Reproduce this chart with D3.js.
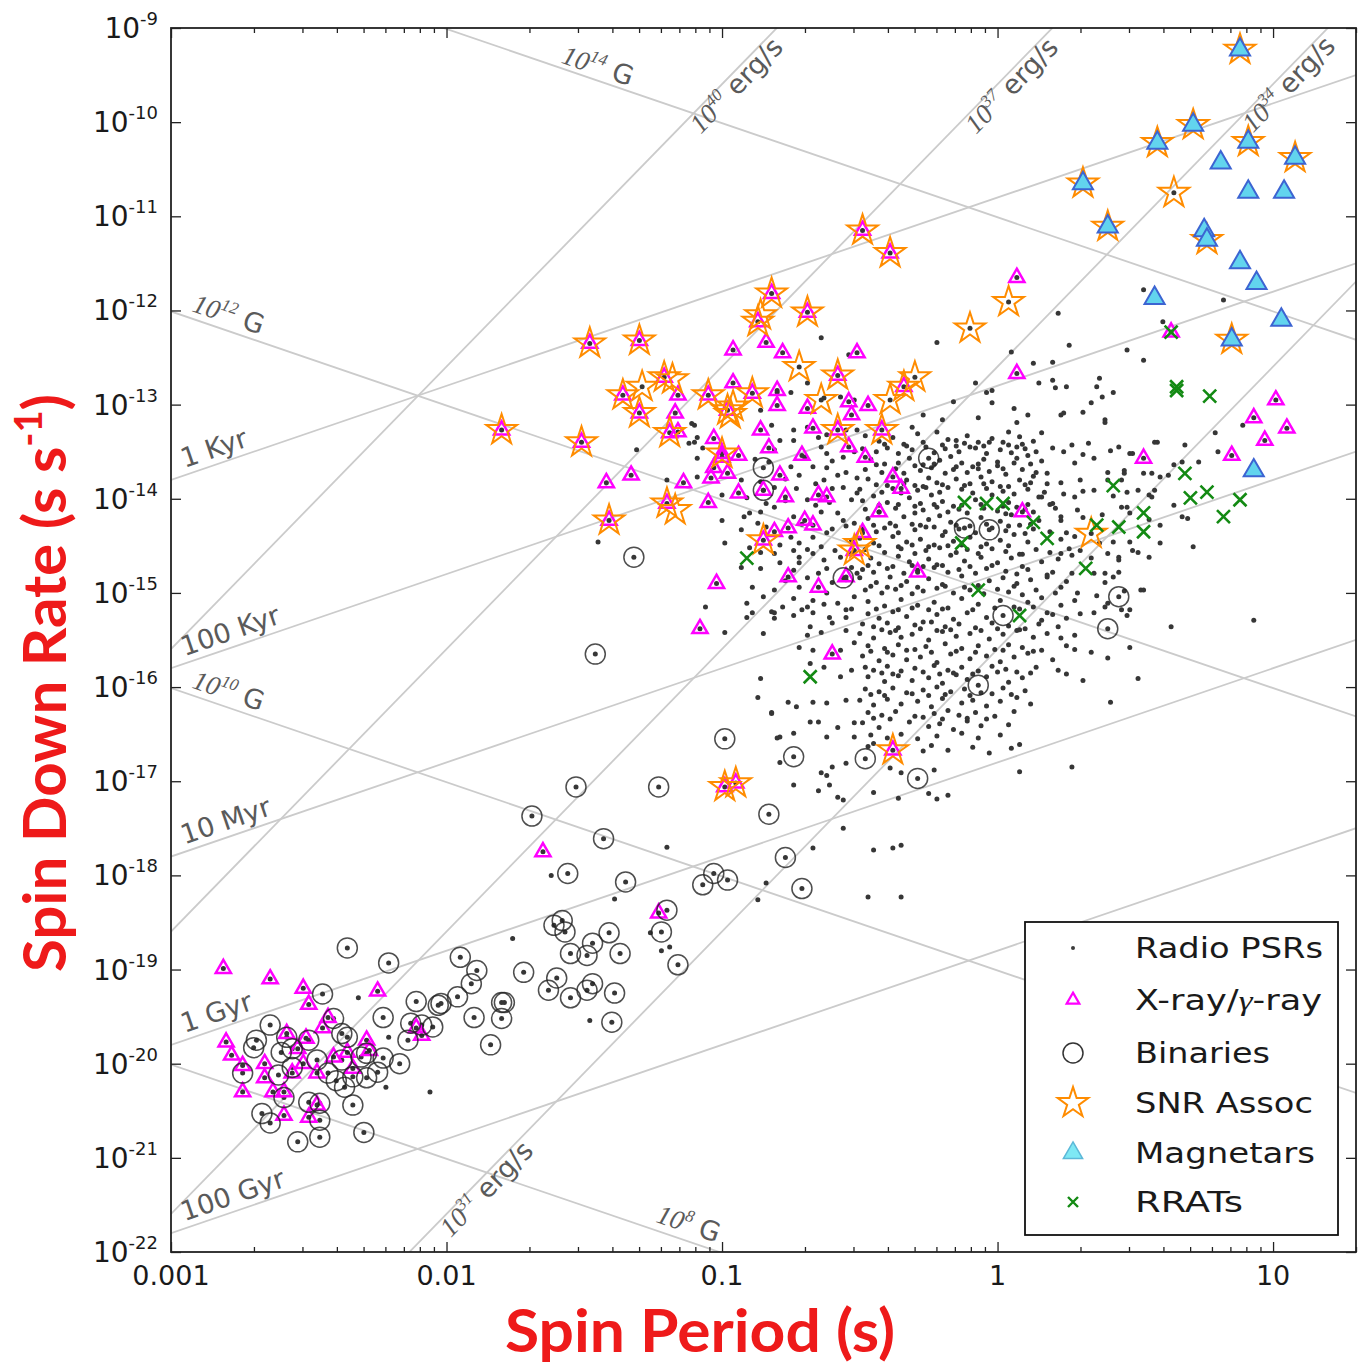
<!DOCTYPE html>
<html>
<head>
<meta charset="utf-8">
<script src="https://cdn.jsdelivr.net/npm/d3@7"></script>
<style>
  body { margin: 0; background: #fff; }
</style>
</head>
<body>
<div id="chart"></div>
<script>
// P-Pdot diagram: values are log10(P [s]) and log10(Pdot [s/s])

// Radio pulsars (small dots)
const radioPSRs = [
  [-0.64,-12.29],[-0.54,-12.47],[-0.80,-12.87],[-0.75,-12.87],[-0.69,-12.77],[-0.63,-12.93],[-0.57,-12.92],[-0.52,-12.95],
  [-0.86,-13.06],[-0.82,-13.22],[-0.74,-13.27],[-0.69,-13.24],[-0.65,-13.35],[-0.62,-13.32],[-0.55,-13.27],[-0.51,-13.27],
  [-1.10,-13.22],[-1.09,-13.35],[-1.12,-13.41],[-1.31,-13.48],[-1.07,-13.46],[-1.09,-13.57],[-0.81,-13.48],[-0.79,-13.38],
  [-0.74,-13.38],[-0.64,-13.45],[-0.62,-13.52],[-0.56,-13.56],[-0.52,-13.50],[-0.75,-13.66],[-0.72,-13.75],[-0.67,-13.66],
  [-0.62,-13.67],[-0.58,-13.75],[-0.55,-13.72],[-0.51,-13.78],[-1.20,-13.80],[-1.09,-13.77],[-0.93,-13.80],[-1.00,-13.96],
  [-0.91,-13.99],[-0.81,-13.88],[-0.73,-13.89],[-0.69,-14.01],[-0.60,-13.89],[-0.56,-13.88],[-0.53,-14.01],[-0.51,-13.94],
  [-1.00,-14.23],[-0.92,-14.19],[-0.90,-14.15],[-0.86,-14.14],[-0.81,-14.09],[-0.74,-14.19],[-0.64,-14.14],[-0.58,-14.15],
  [-0.56,-14.23],[-0.52,-14.26],[-0.93,-14.33],[-0.87,-14.26],[-0.75,-14.41],[-0.72,-14.47],[-0.67,-14.41],[-0.62,-14.36],
  [-0.59,-14.55],[-0.53,-14.44],[-1.45,-14.46],[-0.99,-14.47],[-0.86,-14.57],[-0.81,-14.58],[-0.74,-14.55],[-0.72,-14.62],
  [-0.67,-14.58],[-0.63,-14.65],[-0.57,-14.62],[-0.53,-14.58],[-0.93,-14.73],[-0.86,-14.74],[-0.79,-14.68],[-0.74,-14.76],
  [-0.72,-14.68],[-0.65,-14.79],[-0.62,-14.74],[-0.53,-14.73],[-0.51,-14.79],[-1.06,-15.15],[-0.91,-15.11],[-0.89,-14.94],
  [-0.85,-15.04],[-0.81,-14.97],[-0.74,-15.06],[-0.72,-14.94],[-0.69,-15.15],[-0.67,-15.08],[-0.62,-15.00],[-0.58,-15.11],
  [-0.55,-15.18],[-0.52,-15.04],[-0.89,-15.21],[-0.81,-15.21],[-0.74,-15.24],[-0.67,-15.21],[-0.61,-15.26],[-0.55,-15.26],
  [-1.11,-13.20],[-1.10,-13.40],
  [-0.22,-12.34],[0.26,-12.37],[0.47,-12.42],[0.53,-12.53],[0.05,-12.44],[0.13,-12.56],[0.20,-12.55],[-0.08,-12.77],
  [-0.04,-12.87],[-0.02,-12.85],[0.15,-12.77],[0.20,-12.74],[0.25,-12.81],[0.37,-12.72],[0.36,-12.81],[0.38,-12.92],
  [0.42,-12.87],[-0.16,-12.97],[-0.02,-12.98],[0.06,-13.04],[0.11,-13.11],[0.23,-13.11],[0.31,-13.08],[0.34,-12.98],
  [0.39,-13.16],[-0.27,-13.11],[-0.20,-13.16],[-0.07,-13.14],[0.04,-13.29],[0.16,-13.30],[0.20,-13.46],[0.27,-13.43],
  [0.33,-13.41],[0.44,-13.45],[0.58,-13.40],[-0.31,-13.24],[-0.22,-13.29],[-0.15,-13.38],[-0.10,-13.45],[-0.03,-13.40],
  [0.07,-13.45],[0.11,-13.54],[0.28,-13.62],[0.35,-13.57],[0.48,-13.52],[0.40,-13.72],[0.46,-13.73],[0.56,-13.73],
  [0.23,-13.83],[0.30,-13.80],[0.35,-13.91],[0.51,-13.91],[0.57,-13.91],[0.18,-13.73],[0.12,-13.83],[0.16,-13.98],
  [0.20,-14.05],[0.28,-13.98],[0.29,-14.12],[0.23,-14.23],[0.25,-14.36],[0.47,-14.09],[0.49,-14.55],[0.44,-14.65],
  [0.37,-14.47],[0.30,-14.55],[0.23,-14.58],[0.27,-14.79],[0.35,-14.79],[0.42,-14.83],[0.52,-14.97],[0.45,-15.18],
  [0.40,-15.11],[0.35,-15.21],[0.28,-15.08],[0.23,-14.94],[0.18,-14.83],[0.13,-15.15],[0.18,-15.21],
  [-0.48,-13.33],[-0.43,-13.39],[-0.38,-13.35],[-0.34,-13.42],[-0.29,-13.31],[-0.18,-13.37],[-0.15,-13.44],[-0.11,-13.33],
  [-0.07,-13.40],[-0.02,-13.36],[0.04,-13.43],[0.08,-13.34],[0.13,-13.39],
  [-0.46,-13.58],[-0.41,-13.63],[-0.32,-13.57],[-0.27,-13.64],[-0.21,-13.59],[-0.17,-13.55],[-0.13,-13.62],[-0.09,-13.66],
  [-0.05,-13.58],[0.00,-13.61],[0.02,-13.68],[0.07,-13.57],[0.12,-13.63],[0.16,-13.60],
  [-0.47,-13.79],[-0.44,-13.85],[-0.33,-13.80],[-0.30,-13.86],[-0.25,-13.78],[-0.22,-13.83],[-0.18,-13.88],[-0.15,-13.79],
  [-0.10,-13.84],[-0.06,-13.77],[-0.02,-13.82],[0.04,-13.87],[0.08,-13.80],[0.13,-13.76],[0.18,-13.84],
  [-0.49,-14.02],[-0.45,-13.97],[-0.40,-14.04],[-0.32,-13.99],[-0.28,-14.05],[-0.24,-13.96],[-0.20,-14.03],[-0.16,-14.08],
  [-0.08,-14.01],[-0.02,-13.96],[0.04,-14.04],[0.07,-14.09],[0.15,-13.98],[0.19,-14.06],
  [-0.47,-14.21],[-0.39,-14.26],[-0.34,-14.19],[-0.31,-14.27],[-0.25,-14.22],[-0.21,-14.18],[-0.17,-14.25],[-0.10,-14.29],
  [-0.06,-14.20],[0.01,-14.24],[0.05,-14.17],[0.08,-14.28],[0.15,-14.23],[0.23,-14.19],
  [-0.50,-14.42],[-0.45,-14.47],[-0.38,-14.40],[-0.33,-14.46],[-0.28,-14.43],[-0.23,-14.49],[-0.20,-14.39],[-0.16,-14.45],
  [-0.10,-14.41],[-0.04,-14.48],[0.01,-14.44],[0.06,-14.38],[0.11,-14.46],[0.23,-14.43],[0.28,-14.40],
  [-0.46,-14.63],[-0.43,-14.69],[-0.36,-14.61],[-0.32,-14.67],[-0.25,-14.64],[-0.22,-14.70],[-0.17,-14.60],[-0.12,-14.66],
  [-0.06,-14.62],[0.00,-14.68],[0.05,-14.63],[0.09,-14.59],[0.16,-14.67],[0.22,-14.64],
  [-0.50,-14.84],[-0.44,-14.89],[-0.39,-14.83],[-0.33,-14.88],[-0.25,-14.85],[-0.20,-14.91],[-0.13,-14.82],[-0.03,-14.87],
  [0.02,-14.84],[0.07,-14.90],[0.12,-14.86],[0.18,-14.81],[0.25,-14.88],
  [-0.47,-15.09],[-0.41,-15.14],[-0.35,-15.07],[-0.29,-15.13],[-0.23,-15.10],[-0.18,-15.16],[-0.13,-15.06],[-0.07,-15.12],
  [0.01,-15.08],[0.06,-15.15],[0.11,-15.10],[0.16,-15.05],[0.23,-15.13],
  [-0.47,-15.22],[-0.43,-15.27],[-0.38,-15.20],[-0.33,-15.25],[-0.27,-15.31],[-0.22,-15.23],[-0.16,-15.28],[-0.11,-15.21],
  [-0.04,-15.26],[0.16,-15.29],[0.20,-15.23],[0.25,-15.27],[0.30,-15.22],[0.47,-15.24],
  [-0.50,-15.43],[-0.45,-15.48],[-0.39,-15.42],[-0.35,-15.47],[-0.31,-15.44],[-0.25,-15.50],[-0.20,-15.41],[-0.15,-15.46],
  [-0.10,-15.43],[-0.03,-15.49],[0.02,-15.44],[0.07,-15.40],[0.13,-15.47],[0.18,-15.43],[0.23,-15.48],[0.28,-15.45],
  [-0.49,-15.67],[-0.43,-15.72],[-0.38,-15.66],[-0.33,-15.71],[-0.28,-15.68],[-0.22,-15.74],[-0.17,-15.65],[-0.10,-15.70],
  [-0.04,-15.67],[0.01,-15.73],[0.06,-15.68],[0.11,-15.64],[0.20,-15.71],[0.40,-15.69],
  [-0.47,-15.89],[-0.41,-15.94],[-0.36,-15.88],[-0.31,-15.93],[-0.25,-15.90],[-0.20,-15.96],[-0.15,-15.87],[-0.11,-15.92],
  [-0.04,-15.89],[0.04,-15.95],[0.09,-15.90],[0.25,-15.86],[0.31,-15.93],[0.51,-15.91],
  [-0.50,-16.14],[-0.45,-16.19],[-0.40,-16.13],[-0.35,-16.18],[-0.29,-16.15],[-0.24,-16.21],[-0.20,-16.12],[-0.13,-16.17],
  [-0.09,-16.14],[-0.04,-16.20],[0.01,-16.15],[0.07,-16.11],[0.12,-16.18],[0.41,-16.16],
  [-0.49,-16.38],[-0.43,-16.43],[-0.32,-16.37],[-0.25,-16.42],[-0.21,-16.39],[-0.16,-16.45],[-0.11,-16.36],[-0.06,-16.41],
  [0.04,-16.40],[-0.47,-16.63],[-0.27,-16.68],[-0.24,-16.62],[-0.18,-16.67],[-0.09,-16.64],[-0.03,-16.70],[0.05,-16.65],
  [0.08,-16.61],[-0.39,-16.86],[-0.35,-16.91],[-0.23,-16.88],[0.08,-16.90],[0.27,-16.85],[-0.45,-17.12],[-0.36,-17.18],
  [-0.25,-17.13],[-0.22,-17.19],[-0.18,-17.15],[-0.45,-17.73],[-0.38,-17.71],[-0.35,-17.68],[-0.47,-18.23],[-0.35,-18.23],
  [-0.99,-15.42],[-0.91,-15.26],[-0.81,-15.27],[-0.68,-15.36],[-0.64,-15.42],[-0.60,-15.32],[-0.55,-15.40],[-0.69,-15.45],
  [-0.72,-15.58],[-0.67,-15.61],[-0.57,-15.61],[-0.52,-15.53],[-0.86,-15.91],[-0.68,-15.75],[-0.63,-15.79],[-0.57,-15.89],
  [-0.53,-15.82],[-0.87,-16.11],[-0.76,-16.16],[-0.73,-16.21],[-0.67,-16.16],[-0.62,-16.17],[-0.55,-16.14],[-0.82,-16.27],
  [-0.68,-16.37],[-0.65,-16.37],[-0.58,-16.43],[-0.52,-16.38],[-0.79,-16.53],[-0.74,-16.49],[-0.62,-16.53],[-0.52,-16.53],
  [-0.79,-16.80],[-0.64,-16.91],[-0.62,-16.94],[-0.60,-16.85],[-0.55,-16.81],[-0.74,-17.04],[-0.65,-17.10],[-0.61,-17.04],
  [-0.58,-17.17],[-0.56,-17.20],[-0.45,-16.60],[-1.20,-17.70],[-0.67,-17.71],[-0.56,-17.50],[-0.85,-15.43],[-0.82,-15.20],
  [-0.71,-15.18],[-0.82,-16.28],[-0.80,-16.54],
  [-1.62,-18.00],[-1.39,-18.25],[-1.76,-18.67],[-0.84,-18.08],[-0.87,-18.26],[-1.22,-18.80],[-1.19,-18.76],[-1.26,-18.61],
  [-1.48,-19.54],[-2.32,-19.30],[-2.21,-19.72],[-2.22,-20.25],[-2.06,-20.30],
  [0.39,-13.19],[0.57,-13.40],[0.49,-13.52],[0.68,-13.43],[0.79,-13.30],[0.80,-13.50],[0.89,-13.22],[0.73,-13.61],
  [0.64,-13.64],[0.67,-13.61],[0.59,-13.77],[0.62,-13.75],[0.53,-13.73],[0.46,-13.70],[0.45,-13.80],[0.40,-13.80],
  [0.47,-13.93],[0.55,-13.96],[0.56,-13.98],[0.64,-14.07],[0.45,-14.09],[0.48,-14.15],[0.67,-14.19],[0.69,-14.21],
  [0.59,-14.28],[0.48,-14.46],[0.42,-14.46],[0.59,-14.47],[0.51,-14.57],[0.71,-14.51],[0.44,-14.62],[0.44,-14.78],
  [0.39,-14.79],[0.39,-14.89],[0.53,-14.97],[0.48,-15.18],[0.39,-15.15],[0.93,-15.29],[0.63,-15.36],
  [0.53,-11.78],[0.60,-12.12],[0.82,-11.89],[0.22,-12.03],[0.21,-12.82],[0.07,-13.19],[0.24,-13.09],
  [0.64,-10.75],[0.04,-11.91],[-0.10,-12.19],[-0.30,-12.71],[-0.72,-12.60],[-1.29,-12.81],[-0.64,-12.95],[-0.39,-12.95],
  [0.34,-14.37],
  [-0.49,-13.47],[-0.44,-13.50],[-0.40,-13.46],[-0.36,-13.52],[-0.31,-13.48],[-0.26,-13.45],[-0.23,-13.51],[-0.19,-13.47],
  [-0.14,-13.50],[-0.08,-13.46],[-0.04,-13.52],[0.01,-13.48],[0.05,-13.51],[0.10,-13.47],[0.14,-13.50],
  [-0.48,-13.69],[-0.42,-13.72],[-0.37,-13.68],[-0.34,-13.73],[-0.28,-13.70],[-0.24,-13.67],[-0.19,-13.73],[-0.16,-13.69],
  [-0.11,-13.72],[-0.07,-13.68],[-0.03,-13.71],[0.03,-13.74],[0.09,-13.69],[0.14,-13.72],
  [-0.50,-13.90],[-0.42,-13.93],[-0.38,-13.89],[-0.35,-13.94],[-0.29,-13.91],[-0.26,-13.88],[-0.21,-13.93],[-0.13,-13.90],
  [-0.09,-13.94],[-0.04,-13.89],[0.02,-13.92],[0.06,-13.95],[0.11,-13.90],[0.17,-13.93],
  [-0.48,-14.11],[-0.43,-14.14],[-0.37,-14.10],[-0.30,-14.15],[-0.27,-14.12],[-0.22,-14.09],[-0.18,-14.14],[-0.14,-14.11],
  [-0.11,-14.15],[-0.05,-14.10],[0.00,-14.13],[0.03,-14.16],[0.10,-14.11],[0.13,-14.14],[0.21,-14.10],
  [-0.49,-14.32],[-0.44,-14.35],[-0.41,-14.31],[-0.36,-14.36],[-0.30,-14.33],[-0.26,-14.30],[-0.19,-14.35],[-0.14,-14.32],
  [-0.08,-14.36],[-0.02,-14.31],[0.03,-14.34],[0.10,-14.37],[0.13,-14.32],[0.19,-14.35],
  [-0.48,-14.54],[-0.41,-14.57],[-0.35,-14.53],[-0.30,-14.58],[-0.26,-14.55],[-0.21,-14.52],[-0.15,-14.57],[-0.11,-14.54],
  [-0.07,-14.58],[-0.02,-14.53],[0.03,-14.56],[0.08,-14.59],[0.14,-14.54],[0.19,-14.57],[0.26,-14.53],
  [-0.49,-14.75],[-0.45,-14.78],[-0.40,-14.74],[-0.34,-14.79],[-0.29,-14.76],[-0.23,-14.73],[-0.18,-14.78],[-0.14,-14.75],
  [-0.08,-14.79],[-0.04,-14.74],[0.03,-14.77],[0.07,-14.80],[0.11,-14.75],[0.20,-14.78],
  [-0.48,-14.97],[-0.42,-15.00],[-0.37,-14.96],[-0.31,-15.01],[-0.27,-14.98],[-0.22,-14.95],[-0.16,-15.00],[-0.10,-14.97],
  [-0.05,-15.01],[0.00,-14.96],[0.04,-14.99],[0.09,-15.02],[0.14,-14.97],[0.21,-15.00],
  [-0.49,-15.33],[-0.45,-15.36],[-0.40,-15.32],[-0.36,-15.37],[-0.30,-15.34],[-0.24,-15.31],[-0.19,-15.36],[-0.14,-15.33],
  [-0.08,-15.37],[-0.02,-15.32],[0.04,-15.35],[0.10,-15.38],[0.15,-15.33],[0.22,-15.36],
  [-0.47,-15.56],[-0.41,-15.59],[-0.36,-15.55],[-0.30,-15.60],[-0.26,-15.57],[-0.19,-15.54],[-0.13,-15.59],[-0.07,-15.56],
  [-0.01,-15.60],[0.04,-15.55],[0.09,-15.58],[0.16,-15.61],[0.25,-15.56],
  [-0.48,-15.79],[-0.45,-15.82],[-0.40,-15.78],[-0.35,-15.83],[-0.30,-15.80],[-0.23,-15.77],[-0.18,-15.82],[-0.13,-15.79],
  [-0.07,-15.83],[-0.02,-15.78],[0.03,-15.81],[0.07,-15.84],[0.14,-15.79],[0.22,-15.82],
  [-0.48,-16.02],[-0.43,-16.05],[-0.38,-16.01],[-0.33,-16.06],[-0.27,-16.03],[-0.22,-16.00],[-0.17,-16.05],[-0.12,-16.02],
  [-0.06,-16.06],[0.02,-16.01],[0.10,-16.04],
  [-0.47,-16.27],[-0.42,-16.30],[-0.37,-16.26],[-0.30,-16.31],[-0.23,-16.28],[-0.18,-16.25],[-0.14,-16.30],[-0.08,-16.27],
  [-0.01,-16.31],[0.06,-16.26],
  [-0.46,-16.51],[-0.40,-16.54],[-0.35,-16.50],[-0.29,-16.55],[-0.22,-16.52],[-0.13,-16.49],[-0.07,-16.54],[0.01,-16.51],
  [-0.88,-13.58],[-0.83,-13.61],[-0.70,-13.56],[-0.60,-13.60],[-0.86,-13.82],[-0.77,-13.79],[-0.66,-13.84],[-0.63,-13.80],
  [-0.84,-14.05],[-0.77,-14.02],[-0.66,-14.07],[-0.61,-14.04],[-0.84,-14.30],[-0.71,-14.27],[-0.60,-14.32],[-0.55,-14.29],
  [-0.90,-14.52],[-0.79,-14.49],[-0.69,-14.54],[-0.64,-14.51],[-0.77,-14.87],[-0.69,-14.84],[-0.60,-14.89],[-0.55,-14.86],
  [-0.78,-15.15],[-0.63,-15.12],[-0.53,-15.17],
  [0.24,-13.50],[0.31,-13.53],[0.41,-13.49],[0.24,-13.95],[0.31,-13.92],[0.42,-13.97],[0.31,-14.20],[0.38,-14.17],
  [0.55,-14.22],[0.27,-14.60],[0.34,-14.63],[0.40,-14.58],[0.55,-14.62],[0.29,-15.00],[0.36,-15.03],[0.46,-14.98],
  [0.28,-15.60],[0.34,-15.63],[0.48,-15.58],
  // darkest part of the cloud
  [-0.41,-13.42],[-0.33,-13.44],[-0.27,-13.40],[-0.20,-13.43],[-0.12,-13.41],[-0.05,-13.44],[0.02,-13.40],[0.09,-13.42],
  [-0.44,-13.64],[-0.36,-13.62],[-0.30,-13.65],[-0.23,-13.63],[-0.15,-13.66],[-0.07,-13.63],[0.00,-13.65],[0.06,-13.62],
  [-0.40,-13.86],[-0.34,-13.84],[-0.27,-13.87],[-0.20,-13.85],[-0.12,-13.86],[-0.05,-13.84],[0.01,-13.87],[0.10,-13.85],
  [-0.43,-14.07],[-0.36,-14.06],[-0.30,-14.08],[-0.23,-14.06],[-0.13,-14.07],[-0.06,-14.06],[0.02,-14.08],[0.11,-14.06],
  [-0.45,-14.28],[-0.37,-14.29],[-0.28,-14.28],[-0.23,-14.30],[-0.15,-14.28],[-0.04,-14.27],[0.04,-14.29],[0.12,-14.27],
  [-0.43,-14.50],[-0.36,-14.51],[-0.31,-14.49],[-0.25,-14.51],[-0.18,-14.50],[-0.13,-14.49],[-0.06,-14.51],[0.04,-14.50],
  [-0.47,-14.71],[-0.38,-14.72],[-0.31,-14.71],[-0.27,-14.72],[-0.20,-14.71],[-0.10,-14.72],[-0.02,-14.71],[0.09,-14.72],
  [-0.46,-14.93],[-0.40,-14.94],[-0.35,-14.92],[-0.29,-14.94],[-0.19,-14.93],[-0.12,-14.94],[-0.07,-14.92],[0.06,-14.93],
  [-0.44,-15.17],[-0.36,-15.18],[-0.31,-15.16],[-0.25,-15.18],[-0.20,-15.17],[-0.09,-15.18],[-0.01,-15.16],[0.08,-15.17],
  [-0.42,-15.39],[-0.37,-15.40],[-0.28,-15.38],[-0.22,-15.40],[-0.17,-15.39],[-0.06,-15.40],[0.00,-15.38],[0.08,-15.39],
  [-0.46,-15.62],[-0.40,-15.63],[-0.33,-15.61],[-0.24,-15.63],[-0.15,-15.62],[-0.08,-15.63],[0.02,-15.61],[0.13,-15.62],
  [-0.42,-15.85],[-0.38,-15.86],[-0.27,-15.84],[-0.21,-15.86],[-0.16,-15.85],[-0.09,-15.86],[0.00,-15.84],[0.12,-15.85],
  [-0.46,-16.08],[-0.41,-16.09],[-0.31,-16.07],[-0.25,-16.09],[-0.19,-16.08],[-0.10,-16.09],[-0.02,-16.07],[0.05,-16.08],
  [-0.45,-16.33],[-0.39,-16.34],[-0.27,-16.32],[-0.20,-16.34],[-0.11,-16.33],[-0.04,-16.34]
];

// X-ray / gamma-ray pulsars (magenta open triangles)
const xrayPSRs = [
  [-0.96,-12.42],[-0.84,-12.34],[-0.78,-12.45],[-0.51,-12.45],[-1.16,-12.90],[-1.17,-13.09],[-0.96,-12.77],[-0.80,-12.85],
  [-0.80,-13.01],[-0.69,-13.04],[-0.54,-12.97],[-0.47,-13.01],[-0.53,-13.11],[-0.86,-13.27],[-0.67,-13.25],[-1.03,-13.36],
  [-1.16,-13.29],[-0.83,-13.46],[-0.71,-13.54],[-0.48,-13.56],[-0.54,-13.45],[-1.33,-13.75],[-1.42,-13.83],[-1.14,-13.83],
  [-1.04,-13.78],[-0.98,-13.73],[-0.94,-13.54],[-1.03,-13.67],[-1.00,-13.56],[-0.94,-13.94],[-1.05,-14.04],[-0.85,-13.91],
  [-0.79,-13.75],[-0.77,-13.98],[-0.65,-13.96],[-0.62,-13.98],[-0.70,-14.23],[-0.76,-14.31],[-0.67,-14.28],[-0.81,-14.35],
  [-1.02,-14.90],[-0.76,-14.83],[-0.65,-14.94],[-0.55,-14.83],[-1.08,-15.38],[-0.60,-15.65],[-0.38,-13.77],[-0.35,-13.89],
  [-0.43,-14.14],[-0.49,-14.36],[-0.29,-14.78],[0.09,-14.14],[0.53,-13.57],[0.07,-11.65],[0.07,-12.67],[1.01,-12.95],
  [0.93,-13.14],[1.05,-13.25],[0.97,-13.38],[0.85,-13.54],[0.63,-12.23],[-1.65,-17.75],[-1.23,-18.40],
  [-0.49,-11.15],[-0.39,-11.39],[-0.82,-11.82],[-0.87,-12.12],[-0.69,-12.02],[-1.48,-12.35],[-1.30,-12.32],[-0.58,-12.69],
  [-1.80,-13.27],[-1.51,-13.40],[-1.36,-12.90],[-1.30,-13.09],[-1.21,-12.71],[-1.05,-12.90],[-0.98,-13.06],[-0.89,-12.88],
  [-0.58,-13.27],[-0.42,-13.27],[-0.34,-12.81],[-1.19,-13.30],[-1.00,-13.52],[-1.20,-14.05],[-1.41,-14.23],[-0.85,-14.44],
  [-0.52,-14.55],[-0.38,-16.67],[-0.99,-17.06],[-0.95,-17.02],
  [-2.81,-18.99],[-2.64,-19.10],[-2.52,-19.20],[-2.50,-19.37],[-2.25,-19.23],[-2.43,-19.51],[-2.45,-19.62],[-2.80,-19.77],
  [-2.78,-19.91],[-2.74,-20.02],[-2.66,-20.00],[-2.58,-19.68],[-2.51,-19.73],[-2.54,-19.84],[-2.52,-20.00],[-2.47,-20.10],
  [-2.56,-20.10],[-2.66,-20.15],[-2.63,-20.30],[-2.59,-20.30],[-2.74,-20.30],[-2.59,-20.55],[-2.50,-20.57],[-2.47,-20.44],
  [-2.41,-19.93],[-2.36,-19.88],[-2.29,-19.75],[-2.28,-19.86],[-2.34,-20.05],[-2.11,-19.62],[-2.09,-19.70]
];

// Binary pulsars (open circles)
const binaries = [
  [-2.36,-18.77],[-2.21,-18.93],[-2.45,-19.26],[-2.11,-19.34],[-2.03,-19.38],[-1.96,-19.29],[-2.64,-19.59],[-2.69,-19.75],
  [-2.70,-19.83],[-2.58,-19.72],[-2.41,-19.52],[-2.36,-19.72],[-2.23,-19.51],[-2.13,-19.57],[-2.09,-19.59],[-2.05,-19.61],
  [-2.14,-19.75],[-2.17,-20.00],[-2.23,-19.94],[-2.25,-20.09],[-2.29,-20.15],[-2.34,-20.14],[-2.40,-20.18],[-2.43,-20.10],
  [-2.47,-19.96],[-2.60,-19.88],[-2.56,-20.04],[-2.61,-20.12],[-2.74,-20.10],[-2.59,-20.36],[-2.50,-20.41],[-2.46,-20.42],
  [-2.34,-20.44],[-2.67,-20.53],[-2.64,-20.63],[-2.46,-20.60],[-2.54,-20.83],[-2.46,-20.78],[-2.30,-20.73],[-2.38,-19.68],
  [-2.31,-19.93],[-2.38,-19.96],[-2.29,-19.89],[-2.37,-20.25],[-2.56,-19.84],[-2.50,-19.75],
  [-0.99,-16.55],[-1.53,-17.06],[-1.23,-17.06],[-1.69,-17.37],[-0.83,-17.35],[-1.43,-17.61],[-1.56,-17.98],[-1.35,-18.07],
  [-1.03,-17.98],[-0.98,-18.05],[-1.07,-18.10],[-0.77,-17.81],[-1.20,-18.37],[-1.22,-18.60],[-1.16,-18.95],[-1.61,-18.53],
  [-1.58,-18.48],[-1.57,-18.60],[-1.47,-18.72],[-1.41,-18.61],[-1.55,-18.83],[-1.49,-18.85],[-1.37,-18.83],[-1.72,-19.03],
  [-1.60,-19.09],[-1.63,-19.22],[-1.55,-19.30],[-1.49,-19.22],[-1.47,-19.15],[-1.39,-19.25],[-1.40,-19.56],[-1.95,-18.87],
  [-1.89,-19.01],[-1.91,-19.15],[-1.90,-19.51],[-1.80,-19.35],[-1.79,-19.35],[-1.80,-19.52],[-1.84,-19.80],[-2.02,-19.36],
  [-1.46,-15.65],[-0.74,-16.74],[-0.71,-18.14],
  [-0.25,-13.57],[-0.12,-14.31],[-0.03,-14.33],[0.44,-15.04],[0.40,-15.38],[-0.07,-15.98],[-0.29,-16.97],[-0.48,-16.76],
  [-0.85,-13.67],[-0.85,-13.91],[-0.56,-14.84],[-1.32,-14.62],[0.02,-15.24]
];

// Supernova remnant associations (open stars)
const snrAssoc = [
  [0.88,-9.23],[0.58,-10.22],[0.71,-10.03],[0.91,-10.21],[1.08,-10.38],[0.31,-10.65],[0.40,-11.11],[0.76,-11.25],
  [0.85,-12.31],[0.64,-10.75],[0.04,-11.91],[-0.10,-12.19],[-0.30,-12.71],[-0.34,-12.81],
  [-0.49,-11.15],[-0.39,-11.39],[-0.82,-11.82],[-0.87,-12.12],[-0.86,-12.05],[-0.69,-12.02],[-1.48,-12.35],[-1.30,-12.32],
  [-0.72,-12.60],[-0.58,-12.69],[-1.80,-13.27],[-1.51,-13.40],[-1.36,-12.90],[-1.29,-12.81],[-1.30,-13.09],[-1.21,-12.71],
  [-1.18,-12.73],[-1.05,-12.90],[-0.98,-13.06],[-0.97,-13.10],[-0.96,-13.02],[-0.89,-12.88],[-0.64,-12.95],[-0.58,-13.27],
  [-0.42,-13.27],[-0.39,-12.95],[-1.19,-13.30],[-1.00,-13.52],[-1.20,-14.05],[-1.17,-14.12],[-1.41,-14.23],[-0.85,-14.44],
  [-0.52,-14.55],[-0.50,-14.48],[0.34,-14.37],[-0.38,-16.67],[-0.99,-17.06],[-0.95,-17.02]
];

// Magnetars (filled cyan triangles)
const magnetars = [
  [0.88,-9.23],[0.58,-10.22],[0.71,-10.03],[0.91,-10.21],[1.08,-10.38],[0.81,-10.43],[0.91,-10.74],[1.04,-10.74],
  [0.31,-10.65],[0.40,-11.11],[0.75,-11.15],[0.76,-11.25],[0.88,-11.49],[0.94,-11.71],[0.57,-11.87],[1.03,-12.10],
  [0.85,-12.31],[0.93,-13.70]
];

// Rotating radio transients (green crosses)
const rrats = [
  [-0.12,-14.04],[-0.04,-14.05],[0.02,-14.05],[0.13,-14.25],[0.18,-14.42],[-0.13,-14.47],[-0.07,-14.97],[0.08,-15.24],
  [0.32,-14.74],[0.42,-13.86],[0.36,-14.28],[0.44,-14.30],[0.53,-14.15],[0.53,-14.35],[0.65,-12.81],[0.65,-12.85],
  [0.77,-12.91],[0.68,-13.73],[0.76,-13.93],[0.70,-13.99],[0.88,-14.01],[0.82,-14.19],[-0.68,-15.89],[-0.91,-14.63],
  [0.63,-12.23]
];

// Reference lines
const ageYears = [1e3, 1e5, 1e7, 1e9, 1e11];
const ageLabels = ['1 Kyr', '100 Kyr', '10 Myr', '1 Gyr', '100 Gyr'];
const fieldExps = [8, 10, 12, 14];
const edotExps = [31, 34, 37, 40];

// Tick labels
const xTickValues = [0.001, 0.01, 0.1, 1, 10];
const xTickLabels = ['0.001', '0.01', '0.1', '1', '10'];
const yTickExps = d3.range(-22, -8);

const svgWidth = 1367, svgHeight = 1367;
const plot = {left: 171, right: 1356, top: 28, bottom: 1252};

const svg = d3.select('#chart').append('svg')
  .attr('width', svgWidth)
  .attr('height', svgHeight)
  .style('font-family', 'DejaVu Sans, sans-serif');

const xScale = d3.scaleLog().domain([1e-3, 20]).range([plot.left, plot.right]);
const yScale = d3.scaleLog().domain([1e-22, 1e-9]).range([plot.bottom, plot.top]);
const px = d => xScale(Math.pow(10, d[0]));
const py = d => yScale(Math.pow(10, d[1]));

// physics of the guide lines
const YR = 3.156e7;
const pdAge = t => P => P / (2 * t * YR);
const pdField = e => P => Math.pow(Math.pow(10, e) / 3.2e19, 2) / P;
const pdEdot = e => P => Math.pow(10, e) * P * P * P / (4 * Math.PI * Math.PI * 1e45);

svg.append('clipPath').attr('id', 'plotClip')
  .append('rect')
  .attr('x', plot.left).attr('y', plot.top)
  .attr('width', plot.right - plot.left).attr('height', plot.bottom - plot.top);

const lineGroup = svg.append('g').attr('clip-path', 'url(#plotClip)');
const allLines = [].concat(
  ageYears.map(t => pdAge(t)),
  fieldExps.map(e => pdField(e)),
  edotExps.map(e => pdEdot(e))
);
allLines.forEach(fn => {
  const ends = [1e-3, 20];
  lineGroup.append('line')
    .attr('x1', xScale(ends[0])).attr('y1', yScale(fn(ends[0])))
    .attr('x2', xScale(ends[1])).attr('y2', yScale(fn(ends[1])))
    .attr('stroke', '#cbcbcb')
    .attr('stroke-width', 1.8);
});

// label placed along a line: offset > 0 is above the line
function placeOnLine(fn, P, off) {
  const x0 = xScale(P), y0 = yScale(fn(P));
  const x1 = xScale(P * 1.2), y1 = yScale(fn(P * 1.2));
  const len = Math.hypot(x1 - x0, y1 - y0);
  const ux = (x1 - x0) / len, uy = (y1 - y0) / len;
  return {x: x0 + uy * off, y: y0 - ux * off, a: Math.atan2(uy, ux) * 180 / Math.PI};
}

const labelColor = '#5a5a5a';
const labelGroup = svg.append('g').attr('fill', labelColor);

ageYears.forEach((t, i) => {
  const p = placeOnLine(pdAge(t), 0.00114, 7);
  labelGroup.append('text')
    .attr('transform', `translate(${p.x},${p.y}) rotate(${p.a})`)
    .attr('font-size', 27)
    .text(ageLabels[i]);
});

function powerLabel(p, exp, unit, anchor) {
  const t = labelGroup.append('text')
    .attr('transform', `translate(${p.x},${p.y}) rotate(${p.a})`)
    .attr('text-anchor', anchor)
    .attr('font-size', 27);
  t.append('tspan')
    .attr('font-family', 'Liberation Serif, DejaVu Serif, serif')
    .attr('font-style', 'italic')
    .text('10');
  t.append('tspan')
    .attr('font-family', 'Liberation Serif, DejaVu Serif, serif')
    .attr('font-style', 'italic')
    .attr('font-size', 17)
    .attr('dy', -11)
    .text(exp);
  t.append('tspan')
    .attr('dy', 11)
    .text(' ' + unit);
}

const fieldAt = {8: [0.0935, 8, 'end'], 10: [0.00116, 7, 'start'], 12: [0.00116, 7, 'start'], 14: [0.0255, 5, 'start']};
fieldExps.forEach(e => {
  const [P, off, anchor] = fieldAt[e];
  powerLabel(placeOnLine(pdField(e), P, off), e, 'G', anchor);
});

const edotAt = {31: 0.0092, 34: 7.5, 37: 0.741, 40: 0.0742};
edotExps.forEach(e => {
  powerLabel(placeOnLine(pdEdot(e), edotAt[e], -20), e, 'erg/s', 'start');
});

// points
const pts = svg.append('g');

const dotData = radioPSRs.concat(binaries, xrayPSRs);
pts.selectAll('.radio')
  .data(dotData)
  .enter()
  .append('circle')
  .classed('radio', true)
  .attr('cx', px)
  .attr('cy', py)
  .attr('r', 2.5)
  .attr('fill', '#363636');

const triSmall = d3.symbol().type(d3.symbolTriangle).size(100);
pts.selectAll('.xray')
  .data(xrayPSRs)
  .enter()
  .append('path')
  .classed('xray', true)
  .attr('d', triSmall)
  .attr('transform', d => `translate(${px(d)},${py(d)})`)
  .attr('fill', 'none')
  .attr('stroke', '#ff00ff')
  .attr('stroke-width', 2.5);

pts.selectAll('.binary')
  .data(binaries)
  .enter()
  .append('circle')
  .classed('binary', true)
  .attr('cx', px)
  .attr('cy', py)
  .attr('r', 10)
  .attr('fill', 'none')
  .attr('stroke', '#222')
  .attr('stroke-opacity', 0.8)
  .attr('stroke-width', 1.5);

const starSym = d3.symbol().type(d3.symbolStar).size(290);
pts.selectAll('.snr')
  .data(snrAssoc)
  .enter()
  .append('path')
  .classed('snr', true)
  .attr('d', starSym)
  .attr('transform', d => `translate(${px(d)},${py(d)})`)
  .attr('fill', 'none')
  .attr('stroke', '#ff8c00')
  .attr('stroke-width', 2);

const triBig = d3.symbol().type(d3.symbolTriangle).size(175);
pts.selectAll('.mag')
  .data(magnetars)
  .enter()
  .append('path')
  .classed('mag', true)
  .attr('d', triBig)
  .attr('transform', d => `translate(${px(d)},${py(d)})`)
  .attr('fill', '#62d4ee')
  .attr('stroke', '#3c64d2')
  .attr('stroke-width', 2);

const crossPath = s => `M${-s},${-s}L${s},${s}M${-s},${s}L${s},${-s}`;
pts.selectAll('.rrat')
  .data(rrats)
  .enter()
  .append('path')
  .classed('rrat', true)
  .attr('d', crossPath(6.5))
  .attr('transform', d => `translate(${px(d)},${py(d)})`)
  .attr('fill', 'none')
  .attr('stroke', '#138a13')
  .attr('stroke-width', 2.6);

// axes: inward ticks on all four sides
const xMinor = [];
[1e-3, 1e-2, 1e-1, 1, 10].forEach(dec => d3.range(2, 10).forEach(k => { if (dec * k <= 20) xMinor.push(dec * k); }));
const yMajor = yTickExps.map(e => Math.pow(10, e));

function addAxis(axis, transform) {
  const g = svg.append('g').attr('transform', transform).call(axis);
  g.select('.domain').remove();
  g.selectAll('text').remove();
  g.selectAll('line').attr('stroke', '#222').attr('stroke-width', 1.3);
}
addAxis(d3.axisBottom(xScale).tickValues(xTickValues).tickSize(-10), `translate(0,${plot.bottom})`);
addAxis(d3.axisBottom(xScale).tickValues(xMinor).tickSize(-5), `translate(0,${plot.bottom})`);
addAxis(d3.axisTop(xScale).tickValues(xTickValues).tickSize(-10), `translate(0,${plot.top})`);
addAxis(d3.axisTop(xScale).tickValues(xMinor).tickSize(-5), `translate(0,${plot.top})`);
addAxis(d3.axisLeft(yScale).tickValues(yMajor).tickSize(-10), `translate(${plot.left},0)`);
addAxis(d3.axisRight(yScale).tickValues(yMajor).tickSize(-10), `translate(${plot.right},0)`);

svg.append('rect')
  .attr('x', plot.left).attr('y', plot.top)
  .attr('width', plot.right - plot.left).attr('height', plot.bottom - plot.top)
  .attr('fill', 'none')
  .attr('stroke', '#222')
  .attr('stroke-width', 1.8);

// tick labels
svg.append('g').selectAll('text')
  .data(xTickValues)
  .enter()
  .append('text')
  .attr('x', d => xScale(d))
  .attr('y', plot.bottom + 33)
  .attr('text-anchor', 'middle')
  .attr('font-size', 27)
  .attr('fill', '#1a1a1a')
  .text((d, i) => xTickLabels[i]);

yTickExps.forEach(e => {
  const t = svg.append('text')
    .attr('x', plot.left - 13)
    .attr('y', yScale(Math.pow(10, e)) + 10)
    .attr('text-anchor', 'end')
    .attr('font-size', 28)
    .attr('fill', '#1a1a1a');
  t.append('tspan').text('10');
  t.append('tspan').attr('font-size', 18).attr('dy', -13).text(String(e));
});

// axis titles
const red = '#ee1a1a';
svg.append('text')
  .attr('x', 700)
  .attr('y', 1352)
  .attr('text-anchor', 'middle')
  .attr('font-family', 'Lato, Open Sans, sans-serif')
  .attr('font-weight', 'bold')
  .attr('font-size', 60)
  .attr('fill', red)
  .attr('textLength', 390)
  .attr('lengthAdjust', 'spacingAndGlyphs')
  .text('Spin Period (s)');

const yTitle = svg.append('text')
  .attr('transform', 'translate(66,683) rotate(-90)')
  .attr('text-anchor', 'middle')
  .attr('font-family', 'Lato, Open Sans, sans-serif')
  .attr('font-weight', 'bold')
  .attr('font-size', 60)
  .attr('fill', red);
yTitle.append('tspan').text('Spin Down Rate (s s');
yTitle.append('tspan').attr('font-size', 38).attr('dy', -24).text('-1');
yTitle.append('tspan').attr('dy', 24).text(')');

// legend
const legendItems = ['Radio PSRs', 'X-ray/γ-ray', 'Binaries', 'SNR Assoc', 'Magnetars', 'RRATs'];
const legendWidths = [188, 187, 135, 178, 180, 108];
const legendRows = [948, 1000, 1053, 1103, 1153, 1202];
const legend = svg.append('g');
legend.append('rect')
  .attr('x', 1025).attr('y', 922).attr('width', 313).attr('height', 313)
  .attr('fill', '#fff')
  .attr('stroke', '#111')
  .attr('stroke-width', 1.8);

legendItems.forEach((name, i) => {
  const t = legend.append('text')
    .attr('x', 1135)
    .attr('y', legendRows[i] + 10)
    .attr('font-size', 28)
    .attr('fill', '#1a1a1a')
    .attr('textLength', legendWidths[i])
    .attr('lengthAdjust', 'spacingAndGlyphs');
  if (name.includes('γ')) {
    t.append('tspan').text('X-ray/');
    t.append('tspan').attr('font-family', 'Liberation Serif, DejaVu Serif, serif').attr('font-style', 'italic').text('γ');
    t.append('tspan').text('-ray');
  } else {
    t.text(name);
  }
});

const lx = 1073;
legend.append('circle').attr('cx', lx).attr('cy', legendRows[0]).attr('r', 2).attr('fill', '#3c3c3c');
legend.append('path').attr('d', d3.symbol().type(d3.symbolTriangle).size(70))
  .attr('transform', `translate(${lx},${legendRows[1]})`)
  .attr('fill', 'none').attr('stroke', '#ff00ff').attr('stroke-width', 2.2);
legend.append('circle').attr('cx', lx).attr('cy', legendRows[2]).attr('r', 10)
  .attr('fill', 'none').attr('stroke', '#333').attr('stroke-width', 1.5);
legend.append('path').attr('d', starSym)
  .attr('transform', `translate(${lx},${legendRows[3]})`)
  .attr('fill', 'none').attr('stroke', '#ff8c00').attr('stroke-width', 2);
legend.append('path').attr('d', d3.symbol().type(d3.symbolTriangle).size(160))
  .attr('transform', `translate(${lx},${legendRows[4]})`)
  .attr('fill', '#7ee8f4').attr('stroke', '#5cb8d8').attr('stroke-width', 1.5);
legend.append('path').attr('d', crossPath(5))
  .attr('transform', `translate(${lx},${legendRows[5]})`)
  .attr('stroke', '#138a13').attr('stroke-width', 2.4);
</script>
</body>
</html>
